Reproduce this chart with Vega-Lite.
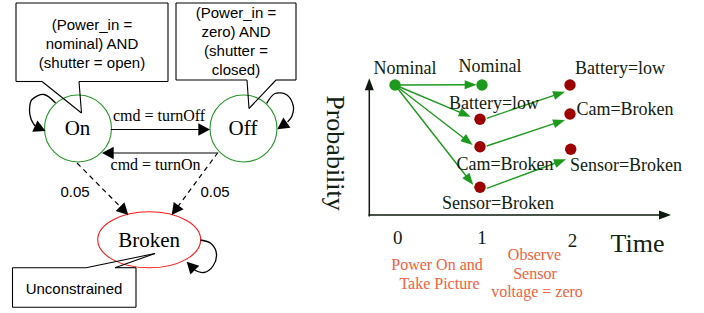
{
  "$schema": "https://vega.github.io/schema/vega-lite/v6.json",
  "width": 704,
  "height": 313,
  "padding": 0,
  "autosize": {"type": "fit", "contains": "padding"},
  "background": "white",
  "config": {"view": {"stroke": null}},
  "datasets": {
    "frames": [
      {"x": 16, "x2": 168, "y": 3, "y2": 81.5},
      {"x": 176, "x2": 296, "y": 3, "y2": 80},
      {"x": 12.5, "x2": 136, "y": 267.7, "y2": 307.3}
    ],
    "edges": [
      {"x": 16, "y": 3, "x2": 168, "y2": 3},
      {"x": 16, "y": 3, "x2": 16, "y2": 81.5},
      {"x": 168, "y": 3, "x2": 168, "y2": 81.5},
      {"x": 16, "y": 81.5, "x2": 42, "y2": 81.5},
      {"x": 79, "y": 81.5, "x2": 168, "y2": 81.5},
      {"x": 42, "y": 81.5, "x2": 81.5, "y2": 113},
      {"x": 79, "y": 81.5, "x2": 81.5, "y2": 113},
      {"x": 176, "y": 3, "x2": 296, "y2": 3},
      {"x": 176, "y": 3, "x2": 176, "y2": 80},
      {"x": 296, "y": 3, "x2": 296, "y2": 80},
      {"x": 176, "y": 80, "x2": 247, "y2": 80},
      {"x": 276, "y": 80, "x2": 296, "y2": 80},
      {"x": 247, "y": 80, "x2": 249, "y2": 108.5},
      {"x": 276, "y": 80, "x2": 249, "y2": 108.5},
      {"x": 12.5, "y": 267.7, "x2": 12.5, "y2": 307.3},
      {"x": 12.5, "y": 307.3, "x2": 136, "y2": 307.3},
      {"x": 136, "y": 267.7, "x2": 136, "y2": 307.3},
      {"x": 12.5, "y": 267.7, "x2": 86, "y2": 267.7},
      {"x": 115, "y": 267.7, "x2": 136, "y2": 267.7},
      {"x": 86, "y": 267.7, "x2": 155, "y2": 253.5},
      {"x": 115, "y": 267.7, "x2": 155, "y2": 253.5},
      {"x": 110.7, "y": 129.5, "x2": 205, "y2": 129.5},
      {"x": 217, "y": 153, "x2": 106, "y2": 153}
    ],
    "dashed": [
      {"x": 77, "y": 163, "x2": 126, "y2": 212.5},
      {"x": 218, "y": 152.5, "x2": 173.5, "y2": 212.5}
    ],
    "loops": [
      {"id": "on", "k": 0, "x": 55.5, "y": 103},
      {"id": "on", "k": 1, "x": 44, "y": 94.5},
      {"id": "on", "k": 2, "x": 32, "y": 99.5},
      {"id": "on", "k": 3, "x": 29.5, "y": 110},
      {"id": "on", "k": 4, "x": 31, "y": 119},
      {"id": "on", "k": 5, "x": 35, "y": 126},
      {"id": "off", "k": 0, "x": 266.7, "y": 103.3},
      {"id": "off", "k": 1, "x": 275, "y": 93.5},
      {"id": "off", "k": 2, "x": 287, "y": 95},
      {"id": "off", "k": 3, "x": 293.3, "y": 106},
      {"id": "off", "k": 4, "x": 292, "y": 116},
      {"id": "off", "k": 5, "x": 287.5, "y": 122},
      {"id": "broken", "k": 0, "x": 200.5, "y": 240},
      {"id": "broken", "k": 1, "x": 211, "y": 243.5},
      {"id": "broken", "k": 2, "x": 216.5, "y": 254},
      {"id": "broken", "k": 3, "x": 213, "y": 266},
      {"id": "broken", "k": 4, "x": 204, "y": 272.5},
      {"id": "broken", "k": 5, "x": 194.5, "y": 270}
    ],
    "blackHeads": [
      {"x": 210, "y": 129.5, "angle": 90},
      {"x": 102, "y": 153, "angle": 270},
      {"x": 128.3, "y": 215, "angle": 135.2},
      {"x": 171.7, "y": 215, "angle": 216.7},
      {"x": 45.5, "y": 131, "angle": 115},
      {"x": 277.3, "y": 129.3, "angle": 235},
      {"x": 186.7, "y": 261.7, "angle": 316}
    ],
    "states": [
      {"name": "On", "x": 78, "y": 128.5},
      {"name": "Off", "x": 243.5, "y": 128.5}
    ],
    "brokenState": [
      {"name": "Broken", "x": 149.2, "y": 239.8}
    ],
    "axes": [
      {"x": 369.3, "y": 216.5, "x2": 369.3, "y2": 86},
      {"x": 368.5, "y": 215, "x2": 664, "y2": 215}
    ],
    "axisHeads": [
      {"x": 369.3, "y": 78.3, "angle": 0},
      {"x": 671, "y": 215, "angle": 90}
    ],
    "greenLines": [
      {"x": 395, "y": 85, "x2": 472, "y2": 84.7},
      {"x": 395, "y": 85, "x2": 466, "y2": 114.8},
      {"x": 395, "y": 85, "x2": 468.5, "y2": 141.8},
      {"x": 395, "y": 85, "x2": 469.5, "y2": 180.2},
      {"x": 486.7, "y": 118.3, "x2": 560, "y2": 93.4},
      {"x": 486.7, "y": 146, "x2": 560, "y2": 121.6},
      {"x": 486.7, "y": 188.3, "x2": 561, "y2": 161}
    ],
    "greenHeads": [
      {"x": 476.7, "y": 84.7, "angle": 90},
      {"x": 470.7, "y": 116.7, "angle": 112.7},
      {"x": 472.7, "y": 145, "angle": 127.7},
      {"x": 473.3, "y": 185, "angle": 141.9},
      {"x": 565, "y": 91.7, "angle": 71.2},
      {"x": 565, "y": 120, "angle": 71.6},
      {"x": 566, "y": 159.3, "angle": 69.9}
    ],
    "greenDots": [
      {"x": 395, "y": 85},
      {"x": 482, "y": 85}
    ],
    "redDots": [
      {"x": 480, "y": 119.3},
      {"x": 480, "y": 146.7},
      {"x": 480, "y": 187.3},
      {"x": 570, "y": 85},
      {"x": 570, "y": 114},
      {"x": 570.7, "y": 149.3}
    ],
    "sansText": [
      {"label": "(Power_in =", "x": 92, "y": 25},
      {"label": "nominal) AND", "x": 92, "y": 44},
      {"label": "(shutter = open)", "x": 92, "y": 63},
      {"label": "(Power_in =", "x": 236, "y": 13},
      {"label": "zero) AND", "x": 236, "y": 32},
      {"label": "(shutter =", "x": 236, "y": 51},
      {"label": "closed)", "x": 236, "y": 70},
      {"label": "0.05", "x": 75, "y": 191.5},
      {"label": "0.05", "x": 215, "y": 191.5},
      {"label": "Unconstrained", "x": 74, "y": 288.5}
    ],
    "cmdText": [
      {"label": "cmd = turnOff", "x": 159, "y": 116},
      {"label": "cmd = turnOn", "x": 155.5, "y": 165}
    ],
    "stateText": [
      {"label": "On", "x": 77.5, "y": 129.3},
      {"label": "Off", "x": 243, "y": 129.3},
      {"label": "Broken", "x": 149.2, "y": 241}
    ],
    "nodeText": [
      {"label": "Nominal", "x": 405, "y": 68.7},
      {"label": "Nominal", "x": 490, "y": 67},
      {"label": "Battery=low", "x": 494, "y": 104},
      {"label": "Cam=Broken", "x": 505, "y": 165.4},
      {"label": "Sensor=Broken", "x": 498, "y": 203.7},
      {"label": "Battery=low", "x": 620, "y": 68.7},
      {"label": "Cam=Broken", "x": 625, "y": 110.4},
      {"label": "Sensor=Broken", "x": 626, "y": 166}
    ],
    "tickText": [
      {"label": "0", "x": 397.7, "y": 238.4},
      {"label": "1", "x": 482, "y": 237.7},
      {"label": "2", "x": 572.5, "y": 241.4}
    ],
    "timeText": [
      {"label": "Time", "x": 637.5, "y": 244.2}
    ],
    "probText": [
      {"label": "Probability", "x": 335, "y": 153}
    ],
    "eventText": [
      {"label": "Power On and", "x": 437, "y": 265},
      {"label": "Take Picture", "x": 439.5, "y": 283.7},
      {"label": "Observe", "x": 534.5, "y": 255},
      {"label": "Sensor", "x": 535, "y": 274.4},
      {"label": "voltage = zero", "x": 537, "y": 291.7}
    ]
  },
  "encoding": {
    "x": {"field": "x", "type": "quantitative", "scale": {"domain": [0, 704], "nice": false, "zero": false}, "axis": null},
    "y": {"field": "y", "type": "quantitative", "scale": {"domain": [0, 313], "nice": false, "zero": false, "reverse": true}, "axis": null}
  },
  "layer": [
    {
      "data": {"name": "states"},
      "mark": {"type": "point", "shape": "circle", "size": 4489, "filled": false, "color": "#2a962a", "strokeWidth": 1.1, "opacity": 1}
    },
    {
      "data": {"name": "brokenState"},
      "mark": {"type": "point", "shape": "M1,0C1,0.3004,0.5523,0.544,0,0.544C-0.5523,0.544,-1,0.3004,-1,0C-1,-0.3004,-0.5523,-0.544,0,-0.544C0.5523,-0.544,1,-0.3004,1,0Z", "size": 10609, "filled": false, "color": "#ff1a1a", "strokeWidth": 1.1, "opacity": 1}
    },
    {
      "data": {"name": "frames"},
      "mark": {"type": "rect", "fill": "white", "strokeWidth": 0},
      "encoding": {"x2": {"field": "x2"}, "y2": {"field": "y2"}}
    },
    {
      "data": {"name": "edges"},
      "mark": {"type": "rule", "color": "black", "strokeWidth": 1.1},
      "encoding": {"x2": {"field": "x2"}, "y2": {"field": "y2"}}
    },
    {
      "data": {"name": "dashed"},
      "mark": {"type": "rule", "color": "black", "strokeWidth": 1.2, "strokeDash": [5, 4]},
      "encoding": {"x2": {"field": "x2"}, "y2": {"field": "y2"}}
    },
    {
      "data": {"name": "loops"},
      "mark": {"type": "line", "color": "black", "strokeWidth": 1.3, "interpolate": "cardinal"},
      "encoding": {"detail": {"field": "id"}, "order": {"field": "k", "type": "quantitative"}}
    },
    {
      "data": {"name": "blackHeads"},
      "mark": {"type": "point", "shape": "M0,0L-0.95,1.8L0.95,1.8Z", "size": 169, "filled": true, "color": "black", "strokeWidth": 0, "opacity": 1},
      "encoding": {"angle": {"field": "angle", "type": "quantitative", "scale": null}}
    },
    {
      "data": {"name": "axes"},
      "mark": {"type": "rule", "color": "#0d1a0d", "strokeWidth": 1.5},
      "encoding": {"x2": {"field": "x2"}, "y2": {"field": "y2"}}
    },
    {
      "data": {"name": "axisHeads"},
      "mark": {"type": "point", "shape": "M0,0L-0.75,2L0.75,2Z", "size": 144, "filled": true, "color": "#0d1a0d", "strokeWidth": 0, "opacity": 1},
      "encoding": {"angle": {"field": "angle", "type": "quantitative", "scale": null}}
    },
    {
      "data": {"name": "greenLines"},
      "mark": {"type": "rule", "color": "#1d9a1d", "strokeWidth": 1.4},
      "encoding": {"x2": {"field": "x2"}, "y2": {"field": "y2"}}
    },
    {
      "data": {"name": "greenHeads"},
      "mark": {"type": "point", "shape": "M0,0L-0.75,2L0.75,2Z", "size": 144, "filled": true, "color": "#1d9a1d", "strokeWidth": 0, "opacity": 1},
      "encoding": {"angle": {"field": "angle", "type": "quantitative", "scale": null}}
    },
    {
      "data": {"name": "greenDots"},
      "mark": {"type": "point", "shape": "circle", "size": 130, "filled": true, "color": "#1d9a1d", "strokeWidth": 0, "opacity": 1}
    },
    {
      "data": {"name": "redDots"},
      "mark": {"type": "point", "shape": "circle", "size": 130, "filled": true, "color": "#9c0000", "strokeWidth": 0, "opacity": 1}
    },
    {
      "data": {"name": "sansText"},
      "mark": {"type": "text", "font": "Liberation Sans", "fontSize": 15, "color": "black", "align": "center", "baseline": "middle"},
      "encoding": {"text": {"field": "label"}}
    },
    {
      "data": {"name": "cmdText"},
      "mark": {"type": "text", "font": "Liberation Serif", "fontSize": 16, "color": "black", "align": "center", "baseline": "middle"},
      "encoding": {"text": {"field": "label"}}
    },
    {
      "data": {"name": "stateText"},
      "mark": {"type": "text", "font": "Liberation Serif", "fontSize": 21, "color": "black", "align": "center", "baseline": "middle"},
      "encoding": {"text": {"field": "label"}}
    },
    {
      "data": {"name": "nodeText"},
      "mark": {"type": "text", "font": "Liberation Serif", "fontSize": 18, "color": "#112211", "align": "center", "baseline": "middle"},
      "encoding": {"text": {"field": "label"}}
    },
    {
      "data": {"name": "tickText"},
      "mark": {"type": "text", "font": "Liberation Serif", "fontSize": 19, "color": "#112211", "align": "center", "baseline": "middle"},
      "encoding": {"text": {"field": "label"}}
    },
    {
      "data": {"name": "timeText"},
      "mark": {"type": "text", "font": "Liberation Serif", "fontSize": 26, "color": "#112211", "align": "center", "baseline": "middle"},
      "encoding": {"text": {"field": "label"}}
    },
    {
      "data": {"name": "probText"},
      "mark": {"type": "text", "font": "Liberation Serif", "fontSize": 26, "color": "#112211", "align": "center", "baseline": "middle", "angle": 90},
      "encoding": {"text": {"field": "label"}}
    },
    {
      "data": {"name": "eventText"},
      "mark": {"type": "text", "font": "Liberation Serif", "fontSize": 16, "color": "#f4603c", "align": "center", "baseline": "middle"},
      "encoding": {"text": {"field": "label"}}
    }
  ]
}
